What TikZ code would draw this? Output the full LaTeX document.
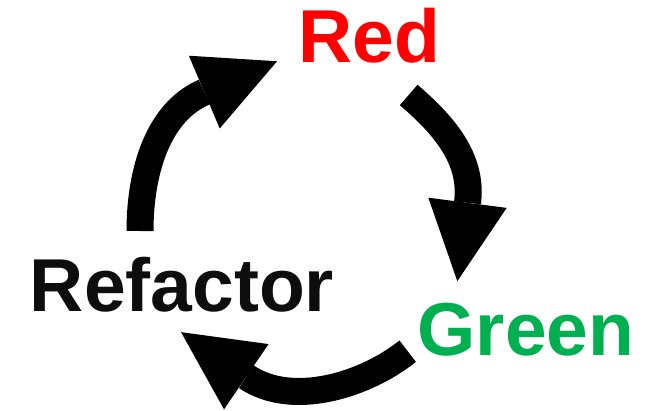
\documentclass[tikz,border=0pt]{standalone}
\usepackage{fontspec}
\setmainfont{Liberation Sans}
\usepackage{tikz}
\usetikzlibrary{arrows.meta}

\definecolor{tddred}{RGB}{255,0,0}
\definecolor{tddgreen}{RGB}{0,176,80}
\definecolor{tddblack}{RGB}{13,13,13}

\tikzset{
  phase/.style={font=\fontsize{75}{80}\selectfont\bfseries, inner sep=0pt, anchor=base},
  cyclearrow/.style={line width=27pt, draw=black, shorten >=-79pt,
    -{Triangle[length=79pt,width=79pt,line width=0pt]}}
}

\begin{document}
\begin{tikzpicture}[x=1pt,y=-1pt]
  \useasboundingbox (0,0) rectangle (648,411);
  % the three phases
  \node[phase, text=tddred] (red) at (369,63) {Red};
  \node[phase, text=tddgreen] (green) at (526,356) {Green};
  \node[phase, text=tddblack] (refactor) at (182,312) {Refactor};
  % ends of the shafts (the heads sit past them)
  \coordinate (refactor out) at (140,231);
  \coordinate (red in) at (204.3,92.1);
  \coordinate (red out) at (408.7,95);
  \coordinate (green in) at (467.5,202.8);
  \coordinate (green out) at (407.7,351.2);
  \coordinate (refactor in) at (246.3,376.7);
  % the cycle
  \draw[cyclearrow] (refactor out) .. controls (140,171) and (158.3,111.6) .. (red in);
  \draw[cyclearrow] (red out) .. controls (442.8,124.3) and (473.3,158.2) .. (green in);
  \draw[cyclearrow] (green out) .. controls (364.6,385.5) and (291.7,407.7) .. (refactor in);
\end{tikzpicture}
\end{document}
